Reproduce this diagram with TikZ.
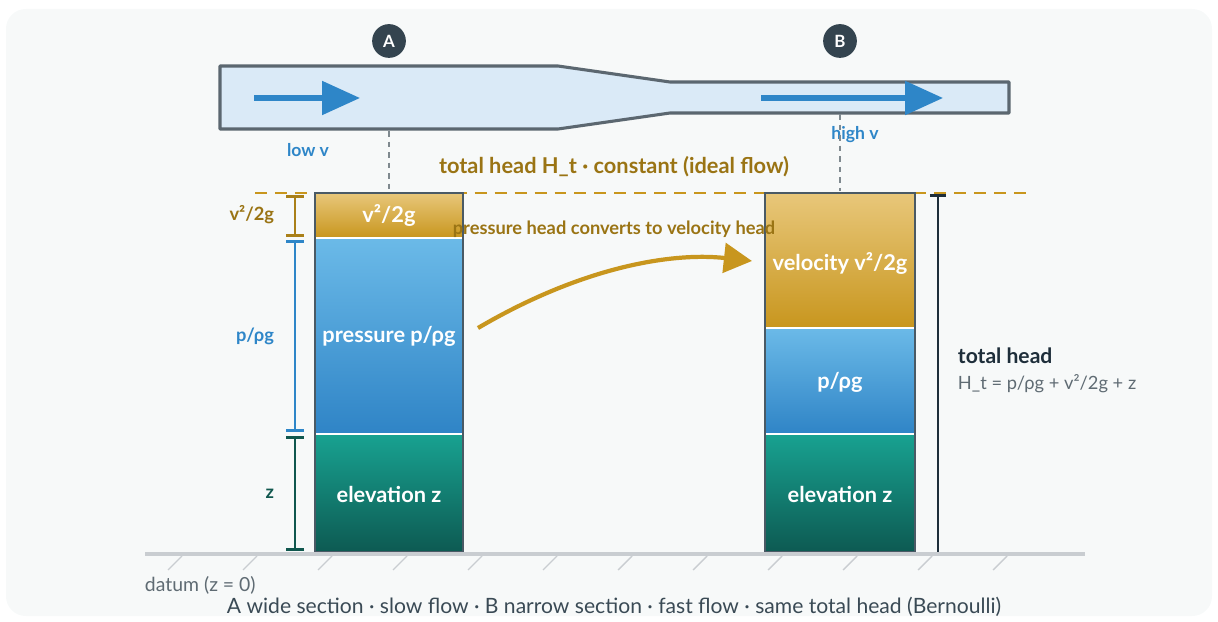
\documentclass[tikz,border=0pt]{standalone}
\usepackage{fontspec}
\setmainfont{Lato}
\usetikzlibrary{arrows.meta,calc}

\definecolor{bgcol}{HTML}{F7F9F9}
\definecolor{pipefill}{HTML}{DAEAF7}
\definecolor{pipeline}{HTML}{5B6770}
\definecolor{flowblue}{HTML}{2E86C8}
\definecolor{golddark}{HTML}{9A7414}
\definecolor{goldline}{HTML}{C8961E}
\definecolor{goldtop}{HTML}{E8C77A}
\definecolor{bluetop}{HTML}{6BBAE8}
\definecolor{bluebot}{HTML}{2F84C6}
\definecolor{tealtop}{HTML}{18A291}
\definecolor{tealbot}{HTML}{0D5A52}
\definecolor{tealdark}{HTML}{10574E}
\definecolor{badgecol}{HTML}{34444F}
\definecolor{colborder}{HTML}{4A5A65}
\definecolor{headline}{HTML}{1E2E3A}
\definecolor{graytext}{HTML}{5F6B73}
\definecolor{captext}{HTML}{3A4A55}
\definecolor{groundcol}{HTML}{C9CDD1}

\tikzset{
  badge/.style={circle, fill=badgecol, text=white, inner sep=0pt, minimum size=24pt,
    font=\bfseries\fontsize{12}{14}\selectfont},
  blocktxt/.style={text=white, font=\bfseries\fontsize{15.5}{18}\selectfont},
  dimtxt/.style={anchor=east, font=\bfseries\fontsize{13}{15}\selectfont},
  dimbar/.style={line width=1.8pt, {Bar[width=12.8pt]}-{Bar[width=12.8pt]}},
  sepline/.style={white, line width=2pt},
  hatch/.style={groundcol, line width=1pt},
  flowarrow/.style={flowblue, line width=3.6pt, -{Triangle[length=27pt,width=23.5pt]}},
  guide/.style={graytext!80, line width=1pt, dash pattern=on 4pt off 3.5pt}
}

\begin{document}
\begin{tikzpicture}[x=0.025cm, y=-0.025cm]
  \useasboundingbox (0,0) rectangle (1218,622);
  \fill[bgcol, rounded corners=14pt] (6,9) rectangle (1212,616);

  % pipe
  \draw[fill=pipefill, draw=pipeline, line width=2.2pt, line join=round]
    (220,66) -- (558,66) -- (670,82) -- (1009,82) -- (1009,113) -- (670,113)
    -- (558,129) -- (220,129) -- cycle;
  \coordinate (a0) at (254,98);  \coordinate (a1) at (360,98);
  \coordinate (b0) at (761,98);  \coordinate (b1) at (943,98);
  \draw[flowarrow] (a0) -- (a1);
  \draw[flowarrow] (b0) -- (b1);

  \node[badge] (A) at (389,41) {A};
  \node[badge] (B) at (840,41) {B};
  \node[text=flowblue, font=\bfseries\fontsize{12.5}{14}\selectfont] (lowv) at (308,150) {low v};
  \node[text=flowblue, font=\bfseries\fontsize{12.5}{14}\selectfont] (highv) at (855,135) {high v};

  \coordinate (pa) at (389,131); \coordinate (ca) at (389,191);
  \coordinate (pb) at (840,114); \coordinate (cb) at (840,191);
  \draw[guide] (pa) -- (ca);
  \draw[guide] (pb) -- (cb);

  \node[text=golddark, font=\bfseries\fontsize{15.5}{18}\selectfont] (title) at (614,167)
    {total head H\_t · constant (ideal flow)};
  \coordinate (hl0) at (255,193); \coordinate (hl1) at (1030,193);
  \draw[goldline, line width=2.1pt, dash pattern=on 8.5pt off 5.7pt] (hl0) -- (hl1);

  % column A
  \shade[top color=goldtop, bottom color=goldline] (315,193) rectangle (463,238);
  \shade[top color=bluetop, bottom color=bluebot] (315,238) rectangle (463,434);
  \shade[top color=tealtop, bottom color=tealbot] (315,434) rectangle (463,552);
  \draw[sepline] (316,238) -- (462,238);
  \draw[sepline] (316,434) -- (462,434);
  \draw[colborder, line width=1.7pt] (315,193) rectangle (463,552);
  \node[blocktxt] (av) at (389,215) {v²/2g};
  \node[blocktxt] (ap) at (389,336) {pressure p/ρg};
  \node[blocktxt] (az) at (389,494) {elevation z};

  % column B
  \shade[top color=goldtop, bottom color=goldline] (765,193) rectangle (915,328);
  \shade[top color=bluetop, bottom color=bluebot] (765,328) rectangle (915,434);
  \shade[top color=tealtop, bottom color=tealbot] (765,434) rectangle (915,552);
  \draw[sepline] (766,328) -- (914,328);
  \draw[sepline] (766,434) -- (914,434);
  \draw[colborder, line width=1.7pt] (765,193) rectangle (915,552);
  \node[blocktxt] (bv) at (840,263) {velocity v²/2g};
  \node[blocktxt] (bp) at (840,382) {p/ρg};
  \node[blocktxt] (bz) at (840,494) {elevation z};

  % head dimensions on the left
  \draw[dimbar, goldline!85!black] (295,195) -- (295,237);
  \draw[dimbar, flowblue] (295,240) -- (295,432);
  \draw[dimbar, tealdark] (295,436) -- (295,551);
  \node[dimtxt, text=golddark] (lv) at (279,215) {v²/2g};
  \node[dimtxt, text=flowblue] (lp) at (279,336) {p/ρg};
  \node[dimtxt, text=tealdark] (lz) at (279,494) {z};

  % conversion arrow
  \coordinate (cv0) at (478,328); \coordinate (cv1) at (752,261);
  \draw[goldline, line width=3pt, -{Triangle[length=20pt,width=21pt]}]
    (cv0) .. controls (580,268) and (670,252) .. (cv1);
  \node[text=golddark, font=\bfseries\fontsize{13}{15}\selectfont] (conv) at (614,229)
    {pressure head converts to velocity head};

  % total head bar
  \coordinate (th0) at (938,194); \coordinate (th1) at (938,552);
  \draw[headline, line width=2pt, {Bar[width=11.5pt]}-] (th0) -- (th1);
  \node[anchor=west, text=headline, font=\bfseries\fontsize{15}{17}\selectfont] (tht) at (953,356) {total head};
  \node[anchor=west, text=graytext, font=\fontsize{13}{15}\selectfont] (thf) at (953,384)
    {H\_t = p/ρg + v²/2g + z};

  % datum
  \coordinate (g0) at (145,554); \coordinate (g1) at (1085,554);
  \draw[groundcol, line width=2.2pt] (g0) -- (g1);
  \foreach \x in {182,257,...,1007}
    \draw[hatch] (\x,556) -- ++(-14,14);
  \node[anchor=west, text=graytext, font=\fontsize{13.8}{16}\selectfont] (datum) at (140,585) {datum (z = 0)};
  \node[text=captext, font=\fontsize{15}{18}\selectfont] (cap) at (614,607)
    {A wide section · slow flow · B narrow section · fast flow · same total head (Bernoulli)};
\end{tikzpicture}
\end{document}
